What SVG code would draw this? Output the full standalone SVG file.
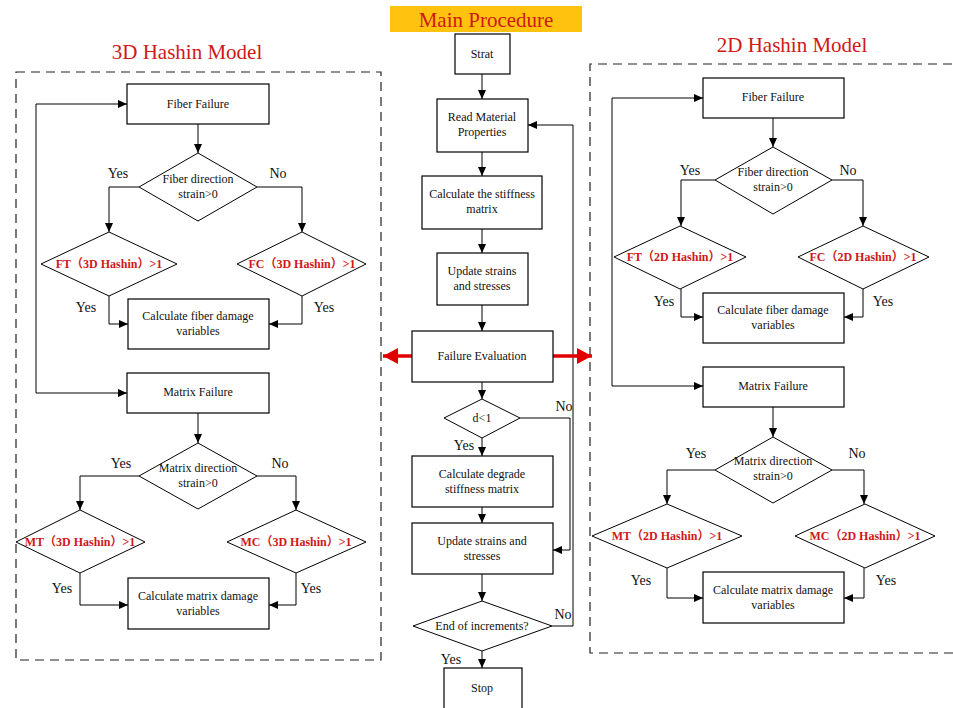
<svg xmlns="http://www.w3.org/2000/svg" width="953" height="708" viewBox="0 0 953 708">
<style>
.box{fill:#fff;stroke:#000;stroke-width:1.2}
.dia{fill:#fff;stroke:#000;stroke-width:1}
.t{font-family:"Liberation Serif","Noto Sans CJK SC",serif;font-size:12px;fill:#111;text-anchor:middle}
.yn{font-family:"Liberation Serif",serif;font-size:14px;fill:#111;text-anchor:middle}
.r{font-family:"Liberation Serif","Noto Sans CJK SC",serif;font-size:12px;font-weight:bold;fill:#d01818;text-anchor:middle}
.ttl{font-family:"Liberation Serif",serif;font-size:21px;fill:#d01818;text-anchor:middle}
.ln{fill:none;stroke:#000;stroke-width:1}
.dash{fill:none;stroke:#222;stroke-width:1.2;stroke-dasharray:9,6}
.red{fill:none;stroke:#e00000;stroke-width:3.5}
</style>
<defs>
<marker id="a" markerUnits="userSpaceOnUse" markerWidth="10" markerHeight="10" refX="9" refY="5" orient="auto"><path d="M0,1 L9,5 L0,9 Z" fill="#000"/></marker>
<marker id="ra" markerUnits="userSpaceOnUse" markerWidth="16" markerHeight="16" refX="15" refY="8" orient="auto"><path d="M0,0 L15,8 L0,16 Z" fill="#e00000"/></marker>
</defs>
<rect width="953" height="708" fill="#fff"/>

<!-- titles -->
<rect x="390" y="6" width="192" height="26" fill="#ffc20e"/>
<text class="ttl" x="486" y="27" font-size="23">Main Procedure</text>
<text class="ttl" x="187" y="59">3D Hashin Model</text>
<text class="ttl" x="792" y="52">2D Hashin Model</text>

<!-- dashed panels -->
<rect class="dash" x="16" y="72" width="365" height="588"/>
<path class="dash" d="M952,64 L590,64 L590,653 L953,653"/>

<g id="connectors">
<!-- main -->
<path class="ln" marker-end="url(#a)" d="M482,74 V99"/>
<path class="ln" marker-end="url(#a)" d="M482,152 V176"/>
<path class="ln" marker-end="url(#a)" d="M482,229 V253"/>
<path class="ln" marker-end="url(#a)" d="M482,305 V331"/>
<path class="ln" marker-end="url(#a)" d="M482,382 V399"/>
<path class="ln" marker-end="url(#a)" d="M482,438 V456"/>
<path class="ln" marker-end="url(#a)" d="M482,507 V523"/>
<path class="ln" marker-end="url(#a)" d="M482,574 V601"/>
<path class="ln" marker-end="url(#a)" d="M482,651 V668"/>
<path class="ln" marker-end="url(#a)" d="M520,418 H570 V550 H553"/>
<path class="ln" marker-end="url(#a)" d="M552,626 H573 V125 H528"/>
<path class="red" marker-end="url(#ra)" d="M412,356 H383"/>
<path class="red" marker-end="url(#ra)" d="M553,356 H592"/>
<!-- 3D -->
<path class="ln" marker-end="url(#a)" d="M198,124 V153"/>
<path class="ln" marker-end="url(#a)" d="M139,187 H109 V232"/>
<path class="ln" marker-end="url(#a)" d="M257,187 H302 V232"/>
<path class="ln" marker-end="url(#a)" d="M109,296 V324 H128"/>
<path class="ln" marker-end="url(#a)" d="M302,296 V324 H269"/>
<path class="ln" marker-end="url(#a)" d="M36,250 V104 H127"/>
<path class="ln" marker-end="url(#a)" d="M36,250 V393 H127"/>
<path class="ln" marker-end="url(#a)" d="M198,413 V443"/>
<path class="ln" marker-end="url(#a)" d="M139,476 H80 V510"/>
<path class="ln" marker-end="url(#a)" d="M257,476 H296 V510"/>
<path class="ln" marker-end="url(#a)" d="M80,573 V605 H128"/>
<path class="ln" marker-end="url(#a)" d="M296,573 V605 H269"/>
<!-- 2D -->
<path class="ln" marker-end="url(#a)" d="M773,118 V147"/>
<path class="ln" marker-end="url(#a)" d="M715,180 H681 V226"/>
<path class="ln" marker-end="url(#a)" d="M832,180 H863 V226"/>
<path class="ln" marker-end="url(#a)" d="M681,289 V317 H703"/>
<path class="ln" marker-end="url(#a)" d="M863,289 V317 H844"/>
<path class="ln" marker-end="url(#a)" d="M612,240 V98 H703"/>
<path class="ln" marker-end="url(#a)" d="M612,240 V386 H703"/>
<path class="ln" marker-end="url(#a)" d="M773,407 V437"/>
<path class="ln" marker-end="url(#a)" d="M715,470 H667 V504"/>
<path class="ln" marker-end="url(#a)" d="M832,470 H864 V504"/>
<path class="ln" marker-end="url(#a)" d="M667,568 V598 H703"/>
<path class="ln" marker-end="url(#a)" d="M864,568 V598 H844"/>
</g>

<!-- main nodes -->
<g id="start"><rect class="box" x="455" y="34" width="55" height="40"/><text class="t" x="482" y="58">Strat</text></g>
<g id="read"><rect class="box" x="437" y="99" width="91" height="53"/><text class="t" x="482" y="121">Read Material</text><text class="t" x="482" y="136">Properties</text></g>
<g id="stiff"><rect class="box" x="422" y="176" width="120" height="53"/><text class="t" x="482" y="198">Calculate the stiffness</text><text class="t" x="482" y="213">matrix</text></g>
<g id="upd1"><rect class="box" x="437" y="253" width="91" height="52"/><text class="t" x="482" y="275">Update strains</text><text class="t" x="482" y="290">and stresses</text></g>
<g id="fail"><rect class="box" x="412" y="331" width="141" height="51"/><text class="t" x="482" y="360">Failure Evaluation</text></g>
<g id="d1"><polygon class="dia" points="482,399 520,418 482,438 444,418"/><text class="t" x="482" y="422">d&lt;1</text></g>
<g id="degrade"><rect class="box" x="412" y="456" width="141" height="51"/><text class="t" x="482" y="478">Calculate degrade</text><text class="t" x="482" y="493">stiffness matrix</text></g>
<g id="upd2"><rect class="box" x="412" y="523" width="141" height="51"/><text class="t" x="482" y="545">Update strains and</text><text class="t" x="482" y="560">stresses</text></g>
<g id="endinc"><polygon class="dia" points="482,601 552,626 482,651 413,626"/><text class="t" x="482" y="630">End of increments?</text></g>
<g id="stop"><rect class="box" x="444" y="668" width="78" height="45"/><text class="t" x="482" y="692">Stop</text></g>
<text class="yn" x="564" y="411">No</text>
<text class="yn" x="464" y="450">Yes</text>
<text class="yn" x="563" y="619">No</text>
<text class="yn" x="451" y="664">Yes</text>

<!-- 3D nodes -->
<g id="f3"><rect class="box" x="127" y="84" width="142" height="40"/><text class="t" x="198" y="108">Fiber Failure</text></g>
<g id="fd3"><polygon class="dia" points="198,153 257,187 198,221 139,187"/><text class="t" x="198" y="183">Fiber direction</text><text class="t" x="198" y="198">strain&gt;0</text></g>
<g id="ft3"><polygon class="dia" points="109,232 177,264 109,296 41,264"/><text class="r" x="109" y="268">FT（3D Hashin）&gt;1</text></g>
<g id="fc3"><polygon class="dia" points="302,232 366,264 302,296 237,264"/><text class="r" x="302" y="268">FC（3D Hashin）&gt;1</text></g>
<g id="cf3"><rect class="box" x="128" y="299" width="141" height="50"/><text class="t" x="198" y="320">Calculate fiber damage</text><text class="t" x="198" y="335">variables</text></g>
<g id="m3"><rect class="box" x="127" y="373" width="142" height="40"/><text class="t" x="198" y="396">Matrix Failure</text></g>
<g id="md3"><polygon class="dia" points="198,443 257,476 198,509 139,476"/><text class="t" x="198" y="472">Matrix direction</text><text class="t" x="198" y="487">strain&gt;0</text></g>
<g id="mt3"><polygon class="dia" points="80,510 145,542 80,573 16,542"/><text class="r" x="80" y="546">MT（3D Hashin）&gt;1</text></g>
<g id="mc3"><polygon class="dia" points="296,510 366,542 296,573 227,542"/><text class="r" x="296" y="546">MC（3D Hashin）&gt;1</text></g>
<g id="cm3"><rect class="box" x="128" y="578" width="141" height="51"/><text class="t" x="198" y="600">Calculate matrix damage</text><text class="t" x="198" y="615">variables</text></g>
<text class="yn" x="118" y="178">Yes</text>
<text class="yn" x="278" y="178">No</text>
<text class="yn" x="86" y="312">Yes</text>
<text class="yn" x="324" y="312">Yes</text>
<text class="yn" x="121" y="468">Yes</text>
<text class="yn" x="280" y="468">No</text>
<text class="yn" x="62" y="593">Yes</text>
<text class="yn" x="311" y="593">Yes</text>

<!-- 2D nodes -->
<g id="f2"><rect class="box" x="703" y="78" width="141" height="40"/><text class="t" x="773" y="101">Fiber Failure</text></g>
<g id="fd2"><polygon class="dia" points="773,147 832,180 773,214 715,180"/><text class="t" x="773" y="176">Fiber direction</text><text class="t" x="773" y="191">strain&gt;0</text></g>
<g id="ft2"><polygon class="dia" points="680,226 746,257 680,289 614,257"/><text class="r" x="680" y="261">FT（2D Hashin）&gt;1</text></g>
<g id="fc2"><polygon class="dia" points="863,226 929,257 863,289 798,257"/><text class="r" x="863" y="261">FC（2D Hashin）&gt;1</text></g>
<g id="cf2"><rect class="box" x="703" y="293" width="141" height="50"/><text class="t" x="773" y="314">Calculate fiber damage</text><text class="t" x="773" y="329">variables</text></g>
<g id="m2"><rect class="box" x="703" y="367" width="141" height="40"/><text class="t" x="773" y="390">Matrix Failure</text></g>
<g id="md2"><polygon class="dia" points="773,437 832,470 773,503 715,470"/><text class="t" x="773" y="465">Matrix direction</text><text class="t" x="773" y="480">strain&gt;0</text></g>
<g id="mt2"><polygon class="dia" points="667,504 742,536 667,568 592,536"/><text class="r" x="667" y="540">MT（2D Hashin）&gt;1</text></g>
<g id="mc2"><polygon class="dia" points="865,504 935,536 865,568 795,536"/><text class="r" x="865" y="540">MC（2D Hashin）&gt;1</text></g>
<g id="cm2"><rect class="box" x="703" y="572" width="141" height="51"/><text class="t" x="773" y="594">Calculate matrix damage</text><text class="t" x="773" y="609">variables</text></g>
<text class="yn" x="690" y="175">Yes</text>
<text class="yn" x="848" y="175">No</text>
<text class="yn" x="664" y="306">Yes</text>
<text class="yn" x="883" y="306">Yes</text>
<text class="yn" x="696" y="458">Yes</text>
<text class="yn" x="857" y="458">No</text>
<text class="yn" x="641" y="585">Yes</text>
<text class="yn" x="886" y="585">Yes</text>
</svg>
